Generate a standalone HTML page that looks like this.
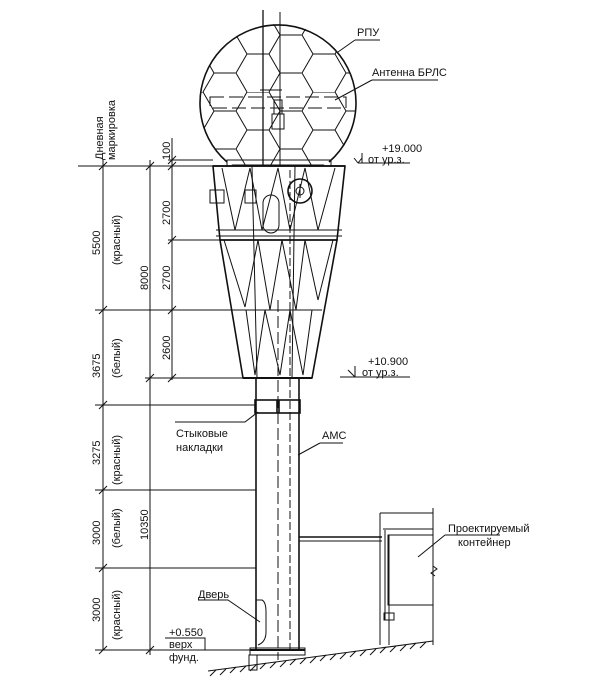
<!DOCTYPE html>
<html><head><meta charset="utf-8"><style>
html,body{margin:0;padding:0;background:#fff;}
svg{display:block;}
text{font-family:"Liberation Sans",sans-serif;font-size:11px;fill:#111;}
</style></head><body>
<svg width="600" height="680" viewBox="0 0 600 680" xmlns="http://www.w3.org/2000/svg">
<defs>
<clipPath id="sph"><circle cx="278" cy="102" r="78"/></clipPath>
<pattern id="hex" x="0" y="0" width="66" height="76" patternUnits="userSpaceOnUse" patternTransform="translate(236,16)">
<path d="M0 19 L11 0 L33 0 L44 19 L33 38 L11 38 Z M44 19 L66 19 M0 57 L11 38 M33 38 L44 57 L66 57 M44 57 L33 76 M11 38 L0 57 L11 76" fill="none" stroke="#111" stroke-width="1"/>
</pattern>
</defs>
<g stroke="#111" fill="none" stroke-width="1">
<!-- sphere -->
<rect x="190" y="20" width="180" height="145" fill="url(#hex)" clip-path="url(#sph)"/>
<path d="M227 162 A78 78 0 1 1 329 162" stroke-width="1.6"/>
<rect x="227" y="160" width="104" height="6"/>
<!-- antenna dashed -->
<rect x="210" y="97" width="136" height="11" stroke-dasharray="14,5"/>
<line x1="260" y1="90" x2="282" y2="90"/>
<rect x="272" y="114" width="12" height="15"/><rect x="274" y="100" width="8" height="14"/>
<!-- vertical axes -->
<line x1="263" y1="10" x2="263" y2="166" stroke-width="1.3"/>
<line x1="280" y1="12" x2="280" y2="166"/>
<!-- cone -->
<path d="M213 166 L345 166 L337 240 L220 240 Z" stroke-width="1.6"/>
<path d="M220 240 L337 240 L312 378 L243 378 Z" stroke-width="1.6"/>
<line x1="213" y1="166" x2="345" y2="166" stroke-width="1.8"/>
<line x1="216" y1="230" x2="342" y2="230"/>
<line x1="216" y1="236" x2="342" y2="236"/>
<line x1="232" y1="310" x2="322" y2="310"/>
<line x1="243" y1="378" x2="312" y2="378" stroke-width="2"/>
<path d="M222 168 L235 230 L250 168 L262 230 L278 168 L290 230 L305 168 L318 230 L335 168"/>
<path d="M224 240 L245 307 L258 240 L270 310 L282 240 L296 310 L305 240 L318 300 L333 240"/>
<path d="M246 310 L255 375 L265 310 L280 375 L290 310 L303 375 L312 310"/>
<line x1="252" y1="166" x2="257" y2="378"/><line x1="295" y1="166" x2="292" y2="378"/>
<rect x="210" y="190" width="14" height="13"/><rect x="245" y="190" width="11" height="13"/>
<rect x="263" y="195" width="16" height="38" rx="8"/>
<circle cx="300" cy="191" r="12" stroke-width="1.6"/><circle cx="300" cy="191" r="4"/><line x1="300" y1="184" x2="300" y2="198"/>
<!-- mast -->
<line x1="256" y1="378" x2="256" y2="650" stroke-width="1.6"/>
<line x1="299" y1="378" x2="299" y2="650" stroke-width="1.6"/>
<line x1="278" y1="300" x2="278" y2="660" stroke-dasharray="12,4"/>
<line x1="290" y1="170" x2="290" y2="650" stroke-dasharray="8,3"/>
<rect x="255" y="400" width="22" height="13" stroke-width="1.6"/><rect x="279" y="400" width="21" height="13" stroke-width="1.6"/>
<path d="M256 600 L262 600 Q266 602 266 612 L266 632 Q266 642 258 645" />
<rect x="250" y="648" width="55" height="7"/>
<line x1="250" y1="650" x2="305" y2="650" stroke-width="2"/>
<rect x="249" y="655" width="8" height="15"/>
<!-- ground -->
<line x1="208" y1="671" x2="433" y2="641"/>
<path d="M216 670 l-6 6 M226 669 l-6 6 M236 667 l-6 6 M246 666 l-6 6 M256 665 l-6 6 M266 663 l-6 6 M276 662 l-6 6 M286 661 l-6 6 M296 659 l-6 6 M306 658 l-6 6 M316 657 l-6 6 M326 655 l-6 6 M336 654 l-6 6 M346 653 l-6 6 M356 651 l-6 6 M366 650 l-6 6 M376 649 l-6 6 M386 647 l-6 6 M396 646 l-6 6 M406 645 l-6 6 M416 643 l-6 6 M426 642 l-6 6"/>
<!-- container -->
<line x1="299" y1="537" x2="382" y2="537" stroke-width="1.6"/>
<line x1="299" y1="541" x2="382" y2="541"/>
<line x1="380" y1="513" x2="433" y2="513"/>
<line x1="380" y1="513" x2="380" y2="645"/>
<line x1="385" y1="530" x2="385" y2="620"/>
<line x1="389" y1="535" x2="389" y2="645"/>
<line x1="383" y1="529" x2="433" y2="529"/>
<rect x="388" y="535" width="45" height="70"/>
<line x1="433" y1="508" x2="433" y2="566"/><path d="M433 566 l4 3 l-6 4 l4 3"/><line x1="433" y1="576" x2="433" y2="645"/>
<rect x="384" y="613" width="10" height="7"/>
<!-- dimensions -->
<line x1="103" y1="160" x2="103" y2="650"/>
<line x1="150" y1="160" x2="150" y2="655"/>
<line x1="172" y1="138" x2="172" y2="380"/>
<line x1="78" y1="166" x2="213" y2="166"/>
<line x1="168" y1="160" x2="213" y2="160"/>
<line x1="95" y1="310" x2="232" y2="310"/>
<line x1="145" y1="378" x2="243" y2="378"/>
<line x1="168" y1="240" x2="220" y2="240"/>
<line x1="95" y1="405" x2="256" y2="405"/>
<line x1="95" y1="490" x2="256" y2="490"/>
<line x1="95" y1="568" x2="256" y2="568"/>
<line x1="95" y1="650" x2="250" y2="650"/>
<path d="M99 170 l8 -8 M99 314 l8 -8 M99 409 l8 -8 M99 494 l8 -8 M99 572 l8 -8 M99 654 l8 -8 M146 170 l8 -8 M146 382 l8 -8 M146 654 l8 -8 M168 164 l8 -8 M168 170 l8 -8 M168 244 l8 -8 M168 314 l8 -8 M168 382 l8 -8"/>
<!-- leaders -->
<path d="M355 40 L380 40 M355 40 L338 52"/>
<path d="M372 80 L438 80 M372 80 L335 100"/>
<path d="M358 163 L410 163 M362 153 L362 163 M358 163 L354 158 M358 163 L362 158"/>
<path d="M355 377 L410 377 M355 377 L348 370 M355 377 L355 366 M340 377 L355 377"/>
<path d="M233 422 L245 422 L258 412 M175 422 L233 422"/>
<path d="M320 443 L343 443 M320 443 L298 455"/>
<path d="M198 600 L228 600 L260 622"/>
<path d="M165 638 L205 638 L205 650"/>
<path d="M445 535 L500 535 M445 535 L418 557"/>
</g>
<text x="357" y="36">РПУ</text>
<text x="372" y="76">Антенна БРЛС</text>
<text x="382" y="152">+19.000</text>
<text x="368" y="163">от ур.з.</text>
<text x="368" y="365">+10.900</text>
<text x="362" y="376">от ур.з.</text>
<text x="176" y="437">Стыковые</text>
<text x="176" y="451">накладки</text>
<text x="322" y="439">АМС</text>
<text x="198" y="598">Дверь</text>
<text x="169" y="636">+0.550</text>
<text x="169" y="648">верх</text>
<text x="169" y="661">фунд.</text>
<text x="448" y="532">Проектируемый</text>
<text x="458" y="546">контейнер</text>
<g font-size="11">
<text transform="translate(103,160) rotate(-90)">Дневная</text>
<text transform="translate(115,160) rotate(-90)">маркировка</text>
<text transform="translate(170,160) rotate(-90)">100</text>
<text transform="translate(170,225) rotate(-90)">2700</text>
<text transform="translate(170,290) rotate(-90)">2700</text>
<text transform="translate(170,360) rotate(-90)">2600</text>
<text transform="translate(148,290) rotate(-90)">8000</text>
<text transform="translate(148,540) rotate(-90)">10350</text>
<text transform="translate(100,255) rotate(-90)">5500</text>
<text transform="translate(120,265) rotate(-90)">(красный)</text>
<text transform="translate(100,378) rotate(-90)">3675</text>
<text transform="translate(120,378) rotate(-90)">(белый)</text>
<text transform="translate(100,465) rotate(-90)">3275</text>
<text transform="translate(120,485) rotate(-90)">(красный)</text>
<text transform="translate(100,545) rotate(-90)">3000</text>
<text transform="translate(120,548) rotate(-90)">(белый)</text>
<text transform="translate(100,622) rotate(-90)">3000</text>
<text transform="translate(120,640) rotate(-90)">(красный)</text>
</g>
</svg>
</body></html>
